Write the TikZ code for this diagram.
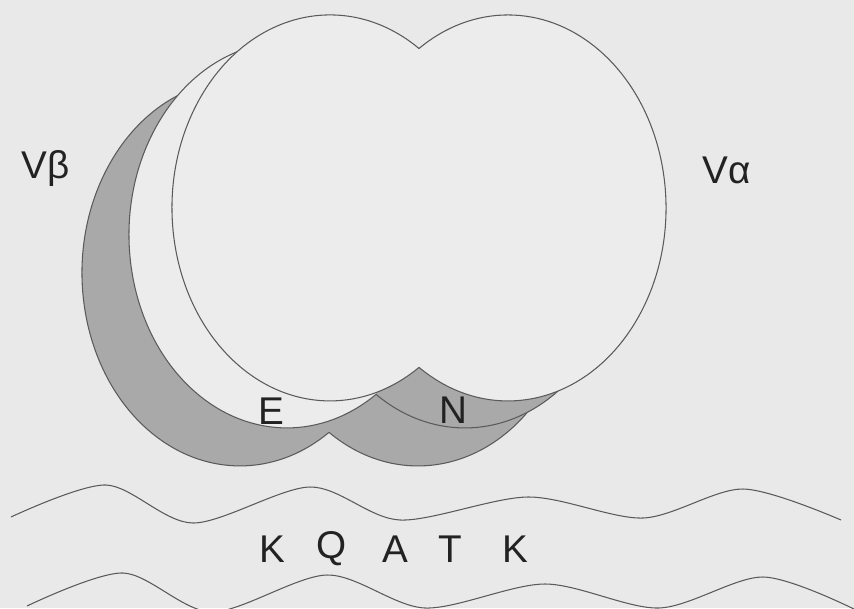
\documentclass[tikz,border=0pt]{standalone}
\usepackage{fontspec}
\setmainfont{Liberation Sans}
\definecolor{paper}{HTML}{E9E9E9}
\definecolor{lobefill}{HTML}{ECECEC}
\definecolor{darkfill}{HTML}{A9A9A9}
\definecolor{ink}{HTML}{5A5A5A}
\definecolor{letter}{HTML}{222222}
\begin{document}
\begin{tikzpicture}[x=0.02cm,y=-0.02cm,
  outline/.style={draw=ink, line width=0.6pt, line join=round},
  heartpath/.style={insert path={(419,48.5)
      arc[start angle=-55.7, end angle=-304.3, x radius=158, y radius=193]
      arc[start angle=124.3, end angle=-124.3, x radius=158, y radius=193] -- cycle}},
  lbl/.style={font=\fontsize{22}{26}\selectfont, text=letter, inner sep=0pt},
  helix/.style={draw=ink, line width=0.6pt}]
  % canvas
  \fill[paper] (0,0) rectangle (854,608);
  \useasboundingbox (0,0) rectangle (854,608);

  % rear domain
  \begin{scope}[shift={(-90,65)}]
    \draw[outline, fill=darkfill, heartpath];
  \end{scope}

  % middle domain: light left lobe, darker right lobe
  \begin{scope}[shift={(-43,27)}]
    \fill[lobefill, heartpath];
    \begin{scope}
      \clip (419,0) rectangle (720,460);
      \fill[darkfill] (508,208) ellipse[x radius=158, y radius=193];
    \end{scope}
    \draw[outline, heartpath];
  \end{scope}

  % front domain
  \draw[outline, fill=lobefill, heartpath];

  % labels
  \node[lbl] (vb) at (46,169) {Vβ};
  \node[lbl] (va) at (727,170) {Vα};
  \node[lbl] (e) at (271,411) {E};
  \node[lbl] (n) at (453,410) {N};

  % peptide
  \node[lbl] (k1) at (272,549) {K};
  \node[lbl] (q) at (332,549) {Q};
  \node[lbl] (a) at (395,549) {A};
  \node[lbl] (t) at (450,549) {T};
  \node[lbl] (k2) at (515,549) {K};

  % helices
  \draw[helix] plot[smooth, tension=0.5] coordinates {(11,517) (106,485) (193,523) (310,487) (400,520) (528,497) (643,518) (743,489) (841,520)};
  \draw[helix] plot[smooth, tension=0.5] coordinates {(27,606) (123,573) (212,612) (327,575) (425,608) (545,584) (659,608) (763,577) (856,610)};
\end{tikzpicture}
\end{document}
